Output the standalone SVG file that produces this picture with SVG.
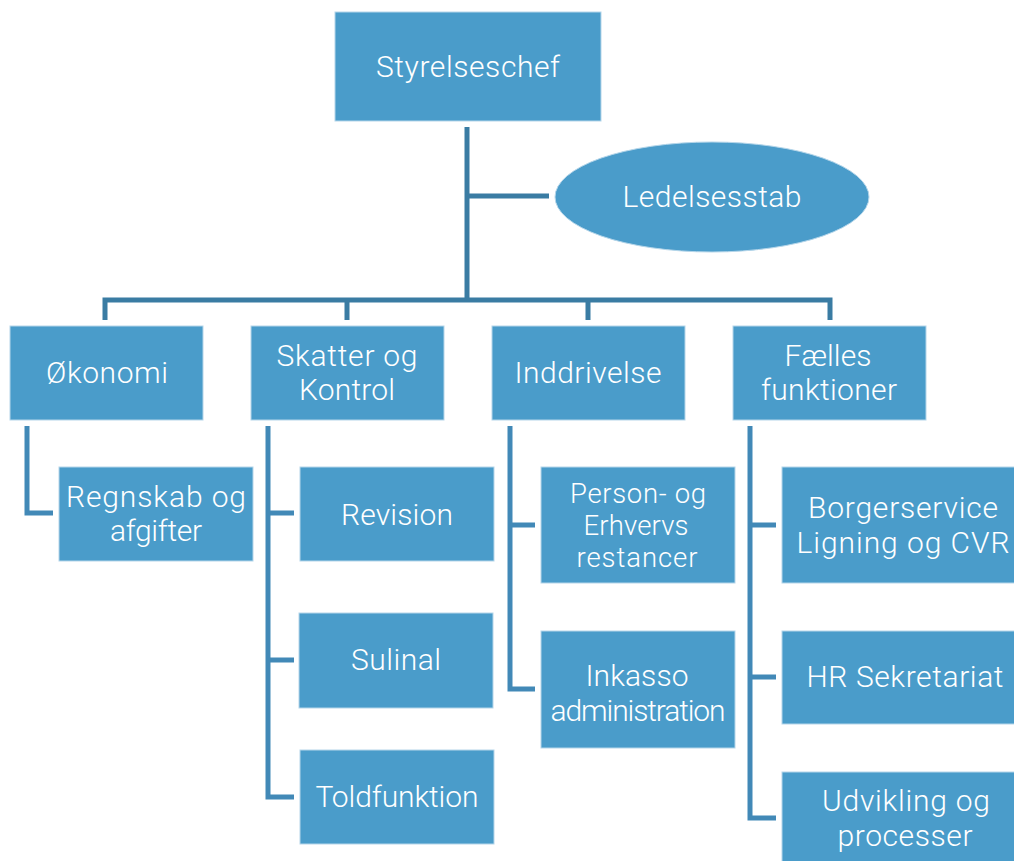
<svg xmlns="http://www.w3.org/2000/svg" width="1014" height="861" viewBox="0 0 1014 861">
<style>
.box{fill:#4a9cca;stroke:#b5d6ea;stroke-width:1}
.t{fill:#ffffff;font-family:Roboto,"Liberation Sans",sans-serif;font-weight:300;font-size:30px;text-anchor:middle}
.s{font-size:27.5px}
.main{fill:none;stroke:#3a7ca3;stroke-width:5}
.sub{fill:none;stroke:#4289b7;stroke-width:5}
</style>
<rect width="1014" height="861" fill="#ffffff"/>
<g id="connectors">
<path class="main" d="M467,127 V300 M467,196 H549 M105,320 V300 H830 V320 M347,300 V320 M588,300 V320"/>
<path class="sub" d="M27,426 V513 H53"/>
<path class="sub" d="M268,426 V797 H294 M268,513 H294 M268,660 H294"/>
<path class="sub" d="M510,426 V689 H535 M510,525 H535"/>
<path class="sub" d="M750,426 V818 H776 M750,525 H776 M750,677 H776"/>
</g>
<g id="styrelseschef"><rect class="box" x="335" y="12" width="266" height="109"/><text class="t" x="468" y="77" textLength="184" lengthAdjust="spacing">Styrelseschef</text></g>
<g id="ledelsesstab"><ellipse class="box" cx="712" cy="197" rx="157" ry="55"/><text class="t" x="712" y="207" textLength="179" lengthAdjust="spacing">Ledelsesstab</text></g>
<g id="okonomi"><rect class="box" x="10" y="326" width="193" height="94"/><text class="t" x="107" y="383" textLength="122" lengthAdjust="spacing">Økonomi</text></g>
<g id="skatter"><rect class="box" x="251" y="326" width="193" height="94"/><text class="t" x="347" y="366" textLength="141" lengthAdjust="spacing">Skatter og</text><text class="t" x="347" y="400" textLength="96" lengthAdjust="spacing">Kontrol</text></g>
<g id="inddrivelse"><rect class="box" x="492" y="326" width="193" height="94"/><text class="t" x="588" y="383" textLength="147" lengthAdjust="spacing">Inddrivelse</text></g>
<g id="faelles"><rect class="box" x="733" y="326" width="193" height="94"/><text class="t" x="828" y="366" textLength="87" lengthAdjust="spacing">Fælles</text><text class="t" x="829" y="400" textLength="136" lengthAdjust="spacing">funktioner</text></g>
<g id="regnskab"><rect class="box" x="59" y="467" width="194" height="94"/><text class="t" x="156" y="507" textLength="180" lengthAdjust="spacing">Regnskab og</text><text class="t" x="156" y="541" textLength="92" lengthAdjust="spacing">afgifter</text></g>
<g id="revision"><rect class="box" x="300" y="467" width="194" height="94"/><text class="t" x="397" y="525" textLength="112" lengthAdjust="spacing">Revision</text></g>
<g id="sulinal"><rect class="box" x="299" y="613" width="194" height="95"/><text class="t" x="396" y="670" textLength="90" lengthAdjust="spacing">Sulinal</text></g>
<g id="toldfunktion"><rect class="box" x="300" y="750" width="194" height="94"/><text class="t" x="397" y="807" textLength="163" lengthAdjust="spacing">Toldfunktion</text></g>
<g id="person"><rect class="box" x="541" y="467" width="194" height="116"/><text class="t s" x="638" y="503" textLength="136" lengthAdjust="spacing">Person- og</text><text class="t s" x="636" y="535" textLength="105" lengthAdjust="spacing">Erhvervs</text><text class="t s" x="637" y="567" textLength="121" lengthAdjust="spacing">restancer</text></g>
<g id="inkasso"><rect class="box" x="541" y="631" width="194" height="117"/><text class="t" x="637" y="686" textLength="103" lengthAdjust="spacing">Inkasso</text><text class="t" x="638" y="721" textLength="175" lengthAdjust="spacing">administration</text></g>
<g id="borgerservice"><rect class="box" x="782" y="467" width="242" height="116"/><text class="t" x="903" y="518" textLength="190" lengthAdjust="spacing">Borgerservice</text><text class="t" x="903" y="553" textLength="213" lengthAdjust="spacing">Ligning og CVR</text></g>
<g id="hr"><rect class="box" x="782" y="631" width="242" height="93"/><text class="t" x="905" y="687" textLength="197" lengthAdjust="spacing">HR Sekretariat</text></g>
<g id="udvikling"><rect class="box" x="782" y="772" width="242" height="100"/><text class="t" x="906" y="811" textLength="168" lengthAdjust="spacing">Udvikling og</text><text class="t" x="905" y="846" textLength="135" lengthAdjust="spacing">processer</text></g>
</svg>
